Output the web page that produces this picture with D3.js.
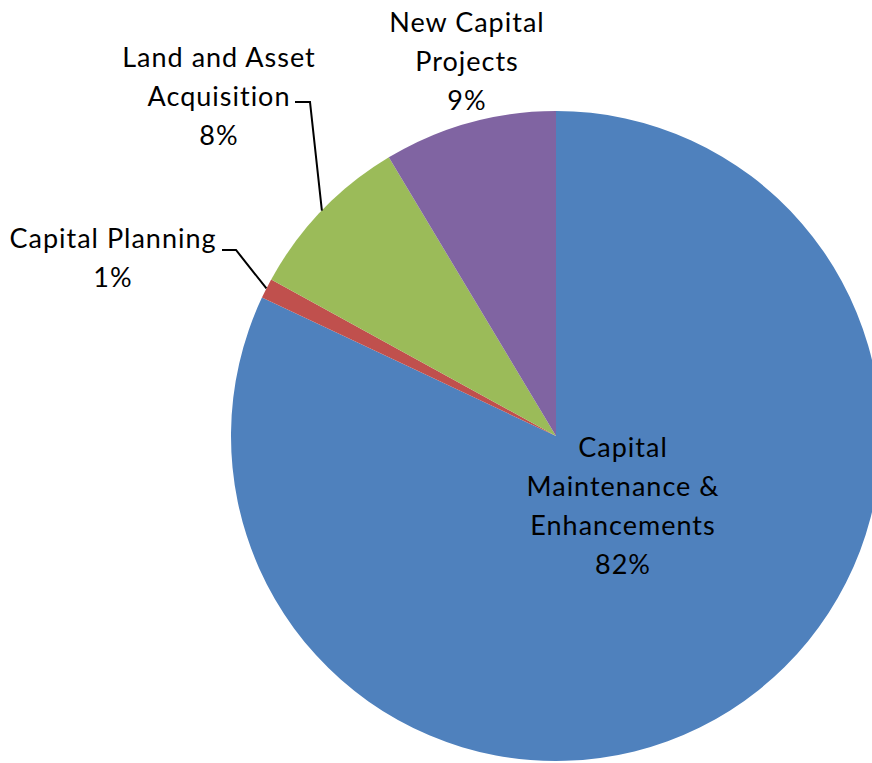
<!DOCTYPE html>
<html>
<head>
<meta charset="utf-8">
<script src="https://cdn.jsdelivr.net/npm/d3@7"></script>
<style>
 body { margin: 0; background: #fff; }
 svg { display: block; }
 text { font-family: Lato, "Open Sans", sans-serif; font-size: 27px; letter-spacing: 1px; fill: #000; }
</style>
</head>
<body>
<svg width="872" height="763"></svg>
<script>
// Data. Order is clockwise from 12 o'clock.
var categories = ['Capital Maintenance & Enhancements', 'Capital Planning', 'Land and Asset Acquisition', 'New Capital Projects'];
var values = [82.0, 1.0, 8.4, 8.6];
var labelLines = [['Capital', 'Maintenance &', 'Enhancements'], ['Capital Planning'], ['Land and Asset', 'Acquisition'], ['New Capital', 'Projects']];
var colors = ['#4f81bd', '#c0504d', '#9bbb59', '#8064a2'];

var data = categories.map(function(c, i) {
 return {name: c, value: values[i], lines: labelLines[i], color: colors[i]};
});

var svg = d3.select('svg');
var cx = 556, cy = 436, radius = 325;
var graphic = svg.append('g').attr('transform', 'translate(' + cx + ',' + cy + ')');

var pie = d3.pie().sort(null).value(function(d) { return d.value; });
var arc = d3.arc().innerRadius(0).outerRadius(radius);
var arcs = pie(data);

graphic.selectAll('path')
 .data(arcs)
 .enter().append('path')
 .attr('d', arc)
 .attr('fill', function(d) { return d.data.color; });

// Label placement (relative to the pie center), first line baseline.
var labelPos = [
 {x: 67, y: 21},
 {x: -443, y: -188},
 {x: -337, y: -369},
 {x: -89, y: -404}
];
var lineHeight = 39;

// leader lines for the two small outer slices: start of line relative to center
var leaders = {1: [-334, -186, -320], 2: [-261, -334, -246]};

arcs.forEach(function(a, i) {
 var p = labelPos[i];
 var t = graphic.append('text').attr('text-anchor', 'middle');
 var lines = a.data.lines.concat([Math.round(a.data.value) + '%']);
 lines.forEach(function(l, j) {
  t.append('tspan').attr('x', p.x).attr('y', p.y + j * lineHeight).text(l);
 });
 if (leaders[i]) {
  var mid = (a.startAngle + a.endAngle) / 2;
  var ex = Math.sin(mid) * radius, ey = -Math.cos(mid) * radius;
  var s = leaders[i];
  graphic.append('path')
   .attr('d', 'M' + s[0] + ',' + s[1] + 'H' + s[2] + 'L' + ex + ',' + ey)
   .attr('fill', 'none')
   .attr('stroke', '#000')
   .attr('stroke-width', 2);
 }
});
</script>
</body>
</html>
